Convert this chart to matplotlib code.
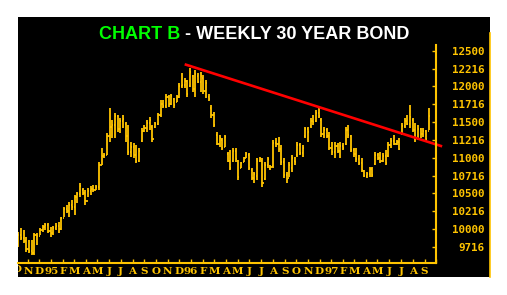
import matplotlib
matplotlib.use('Agg')
import matplotlib.pyplot as plt
import matplotlib.dates as mdates
import matplotlib.transforms as mtransforms
import pandas as pd
from matplotlib.patches import Rectangle
from matplotlib.lines import Line2D

# ---------------- data ----------------
week_start = '1994-10-07'
highs = [99.60, 100.15, 99.87, 98.90, 98.48, 98.48, 99.46, 99.46, 100.15, 100.57,
         100.85, 100.85, 100.29, 100.43, 100.85, 100.99, 101.69, 103.09, 103.37, 103.79,
         104.07, 104.76, 105.18, 106.44, 105.74, 105.46, 105.74, 106.00, 106.16, 106.16,
         109.37, 111.33, 110.63, 113.43, 116.92, 115.24, 116.22, 115.94, 115.52, 115.94,
         114.96, 114.54, 112.17, 112.03, 111.75, 111.33, 114.12, 114.54, 115.24, 115.66,
         114.54, 114.96, 116.22, 118.04, 118.04, 119.00, 118.73, 119.00, 118.32, 118.73,
         120.41, 121.81, 121.11, 120.83, 122.51, 121.53, 122.23, 121.81, 121.95, 121.53,
         120.83, 119.00, 117.34, 116.36, 113.57, 113.15, 112.73, 113.15, 110.77, 111.05,
         111.33, 111.33, 109.65, 109.37, 110.07, 110.77, 110.63, 108.54, 107.98, 109.93,
         110.07, 109.93, 109.37, 110.07, 108.96, 112.45, 112.73, 112.87, 111.75, 109.93,
         107.98, 109.37, 110.35, 110.07, 112.17, 112.03, 111.75, 114.26, 114.26, 115.52,
         115.94, 116.64, 117.06, 115.52, 114.26, 114.12, 113.57, 112.17, 112.17, 112.03,
         112.17, 112.03, 114.26, 114.54, 113.15, 111.33, 111.33, 110.35, 109.93, 108.26,
         107.98, 108.68, 108.68, 110.77, 110.63, 110.77, 110.63, 111.05, 112.17, 112.73,
         113.15, 112.45, 112.73, 114.82, 115.52, 115.94, 117.34, 115.52, 114.82, 114.54,
         114.12, 114.12, 113.84, 116.92]
lows = [97.50, 98.48, 98.06, 96.80, 96.66, 96.38, 96.38, 97.78, 99.18, 99.60,
        99.87, 99.46, 98.90, 99.18, 99.87, 99.46, 99.87, 101.69, 102.25, 101.69,
        102.67, 101.97, 103.65, 104.49, 104.76, 103.37, 104.49, 104.76, 105.18, 105.46,
        105.46, 108.96, 109.93, 110.35, 112.17, 112.73, 112.73, 113.57, 113.43, 114.12,
        112.17, 110.35, 110.07, 109.93, 109.23, 109.37, 112.17, 113.57, 113.57, 113.84,
        112.17, 114.12, 114.54, 115.66, 116.92, 116.92, 117.06, 117.34, 116.92, 117.76,
        118.32, 119.72, 119.72, 118.46, 119.85, 119.15, 118.46, 120.41, 119.15, 119.00,
        118.32, 117.90, 115.52, 114.26, 111.75, 111.47, 111.05, 111.47, 109.37, 108.26,
        109.37, 109.37, 106.86, 108.54, 109.37, 109.93, 108.26, 106.86, 106.44, 106.86,
        109.37, 105.88, 106.86, 108.54, 108.26, 108.54, 111.47, 110.77, 108.96, 107.14,
        106.44, 107.28, 107.98, 108.96, 110.07, 110.35, 110.07, 112.73, 112.17, 114.12,
        114.54, 114.96, 115.52, 112.87, 112.73, 112.73, 111.05, 110.35, 109.93, 110.63,
        109.93, 111.05, 111.75, 112.73, 110.77, 110.07, 109.37, 108.96, 107.98, 107.28,
        107.14, 107.28, 107.28, 108.96, 109.65, 109.23, 109.37, 108.96, 110.07, 111.33,
        111.75, 111.75, 111.05, 113.15, 114.12, 114.54, 114.12, 113.57, 112.17, 112.45,
        112.73, 112.87, 112.17, 113.84]
opens = [98.2, 99.2, 98.8, 98.4, 97.2, 97.0, 96.6, 99.2, 99.0, 99.9,
         100.3, 100.6, 99.8, 99.4, 100.2, 100.5, 100.0, 101.5, 102.8, 102.6,
         103.4, 103.1, 104.5, 104.9, 105.5, 105.0, 104.0, 105.4, 105.6, 105.5,
         105.9, 109.0, 110.2, 110.4, 113.0, 114.3, 114.6, 115.8, 114.0, 115.2,
         114.8, 113.0, 110.8, 111.5, 110.4, 109.6, 112.3, 113.8, 114.2, 114.9,
         114.3, 114.3, 114.8, 116.0, 117.6, 117.3, 118.5, 117.5, 118.3, 117.8,
         118.5, 120.0, 120.2, 120.8, 120.0, 121.5, 119.6, 121.5, 120.6, 121.2,
         119.4, 118.5, 117.0, 116.0, 113.2, 112.0, 112.5, 111.5, 110.5, 109.6,
         109.6, 111.0, 109.5, 108.6, 109.4, 110.0, 110.4, 108.3, 107.2, 107.4,
         109.6, 109.6, 107.0, 109.0, 108.6, 108.8, 112.1, 111.9, 111.2, 109.4,
         107.6, 107.2, 108.6, 109.6, 110.4, 111.8, 110.7, 113.0, 114.0, 114.4,
         115.2, 115.2, 116.3, 115.3, 113.3, 113.9, 113.1, 111.4, 110.8, 111.6,
         110.9, 111.7, 111.9, 113.9, 113.0, 111.1, 110.5, 109.8, 109.3, 108.1,
         107.5, 107.7, 108.4, 109.1, 110.4, 110.0, 109.5, 110.3, 110.3, 111.8,
         112.4, 112.0, 112.2, 113.3, 114.5, 115.2, 114.8, 115.3, 113.9, 112.7,
         114.1, 113.3, 113.8, 113.8]
closes = [99.2, 98.8, 98.4, 97.2, 97.0, 96.6, 99.2, 99.0, 99.9, 100.3,
          100.6, 99.8, 99.4, 100.2, 100.5, 100.0, 101.5, 102.8, 102.6, 103.4,
          103.1, 104.5, 104.9, 106.1, 105.0, 104.0, 105.4, 105.6, 105.5, 105.9,
          109.0, 110.2, 110.4, 113.0, 114.3, 114.6, 115.8, 114.0, 115.2, 115.5,
          113.0, 110.8, 111.5, 110.4, 109.6, 111.0, 113.8, 114.2, 114.9, 115.3,
          112.6, 114.8, 116.0, 117.6, 117.3, 118.5, 117.5, 118.6, 117.4, 118.5,
          120.0, 120.2, 120.8, 119.0, 122.0, 119.6, 121.8, 120.6, 121.5, 119.4,
          120.5, 118.2, 116.0, 114.6, 112.0, 112.8, 111.4, 112.9, 109.6, 108.6,
          111.0, 109.8, 107.3, 109.2, 109.9, 110.5, 108.6, 107.2, 107.7, 109.6,
          109.8, 106.4, 109.0, 109.8, 108.7, 112.1, 111.9, 111.2, 109.4, 107.6,
          107.0, 109.0, 109.9, 109.4, 111.8, 110.7, 111.4, 114.0, 113.6, 115.2,
          115.0, 116.3, 115.9, 113.3, 113.9, 113.1, 111.4, 110.8, 111.6, 110.9,
          111.7, 111.4, 113.9, 113.2, 111.1, 110.5, 109.8, 109.3, 108.3, 107.5,
          107.7, 108.4, 107.6, 110.4, 110.0, 109.5, 110.3, 109.3, 111.8, 112.4,
          112.0, 112.2, 111.3, 114.5, 115.2, 114.8, 115.7, 113.9, 112.7, 114.1,
          113.3, 113.8, 112.6, 115.9]

month_labels = ['N', 'D', '95', 'F', 'M', 'A', 'M', 'J', 'J', 'A', 'S', 'O',
                'N', 'D', '96', 'F', 'M', 'A', 'M', 'J', 'J', 'A', 'S', 'O',
                'N', 'D', '97', 'F', 'M', 'A', 'M', 'J', 'J', 'A', 'S', '']
month_start = '1994-11-01'
ytick_vals = [97.5, 100.0, 102.5, 105.0, 107.5, 110.0, 112.5, 115.0, 117.5, 120.0, 122.5, 125.0]
ytick_labels = ['9716', '10000', '10216', '10500', '10716', '11000',
                '11216', '11500', '11716', '12000', '12216', '12500']
trend_dates = ['1995-12-15', '1997-10-17']
trend_prices = [123.1, 111.6]

# ---------------- style ----------------
W, H = 507, 295
YEL = '#FFC400'
GREEN = '#00FF00'

fig = plt.figure(figsize=(W / 100, H / 100), dpi=100)
fig.patch.set_facecolor('white')

bg = Rectangle((18 / W, 18 / H), 472 / W, 260 / H, transform=fig.transFigure,
               facecolor='black', edgecolor='none', zorder=-2)
fig.patches.append(bg)
fig.add_artist(Line2D([490 / W, 490 / W], [18 / H, 262 / H], transform=fig.transFigure,
                      color=YEL, lw=1.2, zorder=-1))

ax = fig.add_axes([18 / W, 32 / H, 418 / W, 218 / H])
ax.set_facecolor('none')

dates = pd.date_range(week_start, periods=len(highs), freq='7D')
x = mdates.date2num(dates.to_pydatetime())
tk = 2.8
ax.vlines(x, lows, highs, color=YEL, lw=1.3)
ax.hlines(opens, x - tk, x, color=YEL, lw=1.3)
ax.hlines(closes, x, x + tk, color=YEL, lw=1.3)

tx = mdates.date2num(pd.to_datetime(trend_dates).to_pydatetime())
ax.plot(tx, trend_prices, color='#FF0000', lw=1.9, clip_on=False, solid_capstyle='butt')

ax.set_xlim(mdates.date2num(pd.Timestamp('1994-10-06')),
            mdates.date2num(pd.Timestamp('1997-09-29')))
ax.set_ylim(95.26, 125.8)

mdts = pd.date_range(month_start, periods=len(month_labels), freq='MS')
ax.set_xticks(mdates.date2num(mdts.to_pydatetime()))
ax.set_xticklabels(month_labels)
ax.yaxis.tick_right()
ax.set_yticks(ytick_vals)
ax.set_yticklabels(ytick_labels)

for s in ['left', 'top']:
    ax.spines[s].set_visible(False)
for s in ['bottom', 'right']:
    ax.spines[s].set_color(YEL)
    ax.spines[s].set_linewidth(1.5)

ax.tick_params(axis='x', direction='in', length=3, width=1, color=YEL,
               labelcolor=YEL, pad=3, labelsize=7.5)
ax.tick_params(axis='y', direction='in', length=3, width=1, color=YEL,
               labelcolor=YEL, pad=35, labelsize=7.8)
for lbl in ax.get_xticklabels():
    lbl.set_fontfamily('DejaVu Serif')
    lbl.set_fontweight('bold')
for lbl in ax.get_yticklabels():
    lbl.set_fontfamily('DejaVu Sans Mono')
    lbl.set_fontweight('bold')
    lbl.set_horizontalalignment('right')

# partially visible October label at the left edge
clipbox = mtransforms.TransformedBbox(mtransforms.Bbox([[18 / W, 18 / H], [490 / W, 278 / H]]),
                                      fig.transFigure)
o = fig.text(17 / W, 1 - 270 / H, 'O', color=YEL, fontsize=7.5, fontweight='bold',
             family='DejaVu Serif', ha='center', va='center')
o.set_clip_box(clipbox)
o.set_clip_on(True)

# title
tfam = ['Liberation Sans', 'DejaVu Sans']
tsize = 13
t1 = fig.text(115 / W, 1 - 39 / H, 'CHART B', color=GREEN, fontsize=tsize,
              fontweight='bold', family=tfam, ha='left', va='baseline')
t2 = fig.text(0, 0, ' - WEEKLY 30 YEAR BOND', color='white', fontsize=tsize,
              fontweight='bold', family=tfam, ha='left', va='baseline')
fig.canvas.draw()
r = fig.canvas.get_renderer()
w1 = t1.get_window_extent(r).width
w2 = t2.get_window_extent(r).width
left_px = 254 - (w1 + w2) / 2
t1.set_position((left_px / W, 1 - 39 / H))
t2.set_position(((left_px + w1) / W, 1 - 39 / H))

fig.savefig('out.png', dpi=100, facecolor='white')
